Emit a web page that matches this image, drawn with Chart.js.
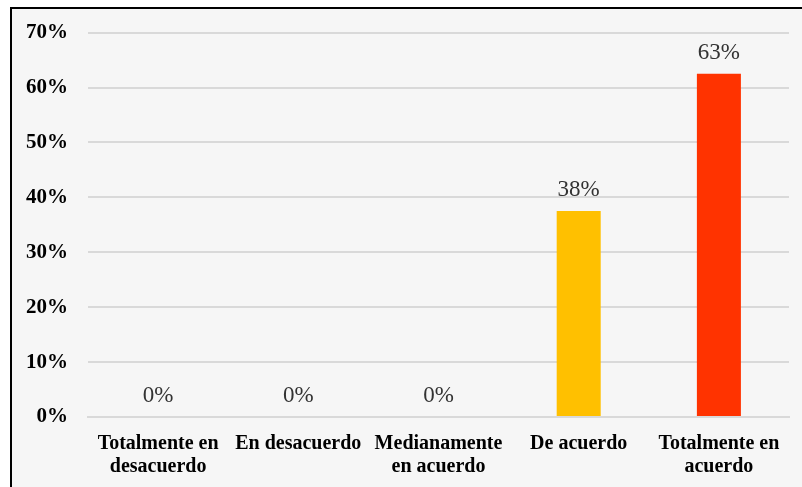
<!DOCTYPE html>
<html>
<head>
<meta charset="utf-8">
<script src="https://cdn.jsdelivr.net/npm/chart.js@4"></script>
<style>
html,body{margin:0;padding:0;background:#fff;}
#frame{position:absolute;left:10px;top:7px;width:792px;height:480px;border-left:2px solid #000;border-top:2px solid #000;background:#f6f6f6;box-sizing:border-box;}
#wrap{position:absolute;left:0;top:0;width:802px;height:487px;}
</style>
</head>
<body>
<div id="frame"></div>
<div id="wrap"><canvas id="c" width="802" height="487"></canvas></div>
<script>
const categories = [["Totalmente en","desacuerdo"], "En desacuerdo", ["Medianamente","en acuerdo"], "De acuerdo", ["Totalmente en","acuerdo"]];
const values = [0, 0, 0, 37.5, 62.5];
const barColors = ["#5B9BD5", "#A5A5A5", "#70AD47", "#FFC000", "#FF3300"];
const yTicks = [0, 10, 20, 30, 40, 50, 60, 70];

const labelPlugin = {
  id: 'valueLabels',
  afterDatasetsDraw(chart) {
    const ctx = chart.ctx;
    const meta = chart.getDatasetMeta(0);
    ctx.save();
    ctx.font = '23px "Liberation Serif", "Times New Roman", serif';
    ctx.fillStyle = '#333333';
    ctx.textAlign = 'center';
    ctx.textBaseline = 'middle';
    meta.data.forEach((bar, i) => {
      ctx.fillText(Math.round(values[i]) + '%', bar.x, bar.y - 21);
    });
    ctx.restore();
  }
};

new Chart(document.getElementById('c'), {
  type: 'bar',
  data: {
    labels: categories,
    datasets: [{
      data: values,
      backgroundColor: barColors,
      borderWidth: 0,
      categoryPercentage: 1,
      barPercentage: 0.314
    }]
  },
  options: {
    responsive: false,
    animation: false,
    layout: { padding: { top: 23, right: 13, left: 0, bottom: 0 } },
    plugins: { legend: { display: false }, tooltip: { enabled: false } },
    scales: {
      x: {
        afterFit(scale) { scale.height = 70; },
        grid: { display: false, drawTicks: false },
        border: { display: true, color: '#d9d9d9', width: 2 },
        ticks: {
          padding: 15,
          color: '#000',
          maxRotation: 0,
          autoSkip: false,
          font: { family: '"Liberation Serif", "Times New Roman", serif', size: 20, weight: 'bold', lineHeight: 1.15 }
        }
      },
      y: {
        min: 0, max: 70,
        afterFit(scale) { scale.width = 88; },
        afterBuildTicks(scale) { scale.ticks = yTicks.map(v => ({ value: v })); },
        grid: { color: '#d9d9d9', lineWidth: 2, drawTicks: false },
        border: { display: false },
        ticks: {
          padding: 20,
          color: '#000',
          callback: v => v + '%',
          font: { family: '"Liberation Serif", "Times New Roman", serif', size: 21, weight: 'bold' }
        }
      }
    }
  },
  plugins: [labelPlugin]
});
</script>
</body>
</html>
